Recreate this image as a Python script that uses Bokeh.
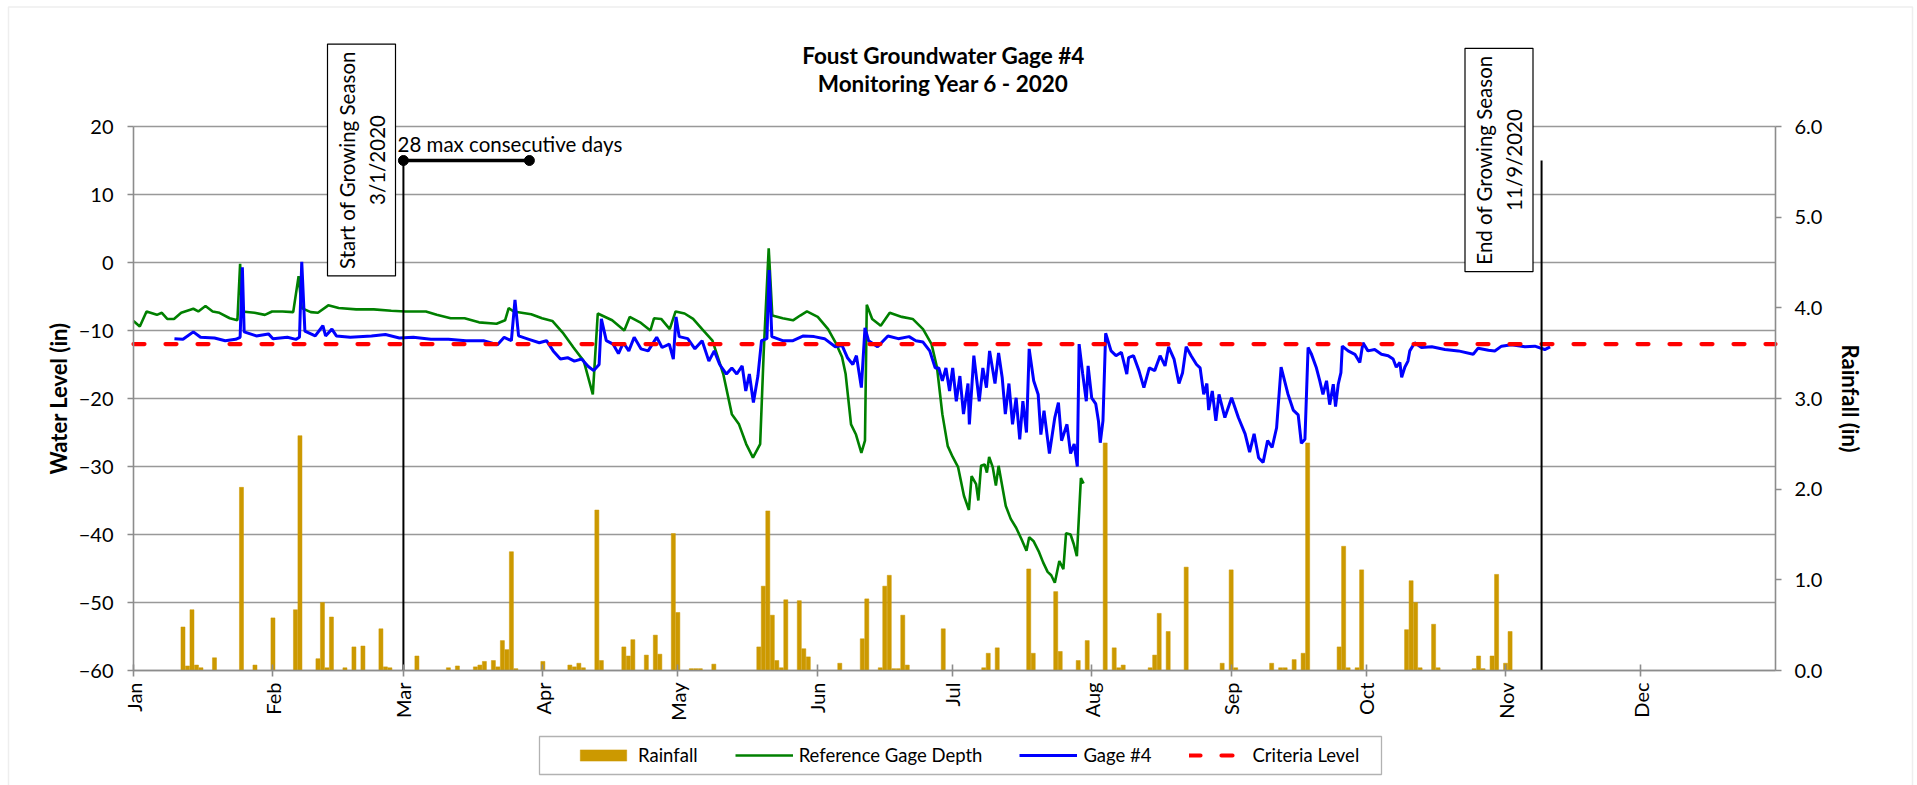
import math
from bokeh.plotting import figure
from bokeh.models import (Range1d, LinearAxis, FixedTicker, Label, Legend, LegendItem,
                          BoxAnnotation)
from bokeh.embed import file_html
from bokeh.resources import INLINE

FONT = "Lato"

# ---------------- data (day offset from 2020-01-01) ----------------
month_days = [0, 31, 60, 91, 121, 152, 182, 213, 244, 274, 305, 335]
month_labels = ["Jan", "Feb", "Mar", "Apr", "May", "Jun", "Jul", "Aug", "Sep", "Oct", "Nov", "Dec"]

rain_day = [11, 12, 13, 14, 15, 18, 24, 27, 31, 36, 37, 41, 42, 43, 44, 47, 49, 51, 55, 56, 57,
            63, 70, 72, 76, 77, 78, 80, 81, 82, 83, 84, 85, 91, 97, 98, 99, 100, 103, 104,
            109, 110, 111, 114, 116, 117, 120, 121, 124, 125, 126, 129, 139, 140, 141, 142,
            143, 144, 145, 148, 149, 150, 157, 162, 163, 166, 167, 168, 169, 170, 171, 172,
            180, 189, 190, 192, 199, 200, 205, 206, 210, 212, 216, 218, 219, 220, 226, 227,
            228, 230, 234, 242, 244, 245, 253, 255, 256, 258, 260, 261, 268, 269, 270, 272,
            273, 283, 284, 285, 286, 289, 290, 298, 299, 300, 302, 303, 305, 306]
rain_in = [0.48, 0.05, 0.67, 0.06, 0.03, 0.14, 2.02, 0.06, 0.58, 0.67, 2.59, 0.13, 0.75, 0.03,
           0.59, 0.03, 0.26, 0.27, 0.46, 0.04, 0.03,
           0.16, 0.03, 0.05, 0.04, 0.06, 0.10, 0.11, 0.04, 0.33, 0.23, 1.31, 0.02, 0.10, 0.06,
           0.04, 0.08, 0.03, 1.77, 0.11,
           0.26, 0.16, 0.34, 0.17, 0.39, 0.18, 1.51, 0.64, 0.02, 0.02, 0.02, 0.07, 0.26, 0.93,
           1.76, 0.61,
           0.11, 0.03, 0.78, 0.77, 0.24, 0.15, 0.08, 0.35, 0.79, 0.03, 0.93, 1.05, 0.02, 0.02,
           0.61, 0.06,
           0.46, 0.03, 0.19, 0.25, 1.12, 0.19, 0.87, 0.21, 0.11, 0.33, 2.51, 0.25, 0.03, 0.06,
           0.03, 0.17,
           0.63, 0.43, 1.14, 0.08, 1.11, 0.03, 0.08, 0.03, 0.03, 0.12, 0.19, 2.51, 0.26, 1.37,
           0.03, 0.03,
           1.11, 0.45, 0.99, 0.75, 0.03, 0.51, 0.03, 0.02, 0.16, 0.02, 0.16, 1.06, 0.08, 0.43]

ref_day = [0, 1.4, 2.9, 5.2, 6.3, 7.5, 9.0, 10.6, 13.3, 14.4, 16.0, 17.6, 19.1, 21.4, 23.1, 23.7,
           24.1, 26.9, 29.2, 30.8, 33.1, 35.5, 36.7, 37.4, 39.4, 41.0, 43.3, 45.6, 49.5, 53.4,
           57.3, 60.4, 65.0, 67.4, 70.5, 73.6, 76.8, 80.7, 82.6, 83.4, 84.5, 88.4, 90.8, 93.1,
           95.4, 97.8, 100.1, 102.1, 103.2, 106.4, 109.1, 110.3, 112.6, 114.9, 115.7, 117.3,
           119.2, 120.5, 122.5, 124.4, 126.4, 128.7, 131.1, 133.0, 134.6, 136.2, 137.7, 139.3,
           140.1, 141.2, 142.0, 144.3, 146.6, 148.2, 149.7, 152.1, 154.4, 156.0, 157.5, 158.3,
           159.5, 160.6, 161.8, 162.6, 163.0, 164.2, 166.1, 168.1, 170.8, 173.2, 175.5, 177.4,
           178.6, 179.8, 181.0, 182.1, 183.3, 184.6, 185.7, 186.3, 187.3, 187.8, 188.4, 189.2,
           189.7, 190.2, 191.0, 191.7, 192.3, 193.9, 195.0, 196.2, 197.4, 198.5, 199.1, 200.1,
           201.3, 202.2, 203.2, 204.0, 204.8, 205.8, 206.7, 207.3, 208.3, 209.0, 209.7, 210.6,
           211.2]
ref_depth = [-8.6, -9.4, -7.2, -7.7, -7.4, -8.3, -8.3, -7.4, -6.8, -7.2, -6.4, -7.2, -7.4, -8.2,
             -8.5, -0.2, -7.2, -7.4, -7.7, -7.2, -7.2, -7.3, -2.0, -6.7, -7.3, -7.4, -6.3, -6.7,
             -6.9, -6.9, -7.1, -7.2, -7.2, -7.7, -8.2, -8.2, -8.8, -9.0, -8.5, -6.7, -7.2, -7.6,
             -8.2, -8.6, -10.3, -12.5, -14.5, -19.4, -7.5, -8.5, -10.0, -8.0, -8.8, -10.0, -8.2,
             -8.3, -9.8, -7.2, -7.5, -8.3, -9.8, -11.5, -16.4, -22.3, -23.8, -26.7, -28.7,
             -26.7, -13.0, 2.1, -7.8, -8.2, -8.5, -7.8, -7.2, -8.0, -9.8, -11.7, -13.9, -16.4,
             -23.8, -25.3, -28.0, -26.2, -6.2, -8.3, -9.3, -7.4, -8.0, -8.3, -9.8, -12.0, -15.4,
             -22.3, -27.0, -28.6, -30.1, -34.3, -36.4, -31.4, -32.6, -35.0, -29.9, -29.7, -30.9,
             -28.6, -30.1, -32.8, -29.9, -35.8, -37.7, -39.0, -40.7, -42.4, -40.4, -41.0, -42.6,
             -44.1, -45.5, -46.0, -47.1, -43.9, -45.1, -39.8, -40.0, -41.4, -43.2, -31.7, -32.5]

gage4_day = [9.1, 11.0, 13.3, 14.9, 18.0, 20.4, 22.7, 23.7, 24.2, 24.6, 27.3, 30.0, 31.0, 34.2,
             36.1, 36.9, 37.4, 38.1, 40.4, 42.1, 42.7, 44.1, 45.1, 48.2, 52.9, 56.0, 59.1, 62.2,
             66.1, 70.0, 73.9, 77.8, 80.9, 82.4, 84.0, 84.8, 85.6, 87.9, 90.2, 91.8, 93.3, 94.9,
             96.5, 98.0, 99.6, 101.1, 102.3, 103.5, 104.0, 105.1, 106.6, 107.8, 108.9, 110.1,
             111.3, 112.8, 114.4, 116.3, 117.5, 119.1, 120.0, 120.6, 121.3, 123.2, 124.8, 126.4,
             127.9, 129.1, 130.3, 131.8, 133.0, 134.1, 135.3, 136.1, 136.9, 137.8, 138.8, 139.6,
             140.8, 141.3, 141.9, 144.3, 146.6, 148.9, 151.3, 153.6, 156.0, 157.5, 158.7, 159.9,
             160.7, 161.8, 162.6, 163.4, 165.4, 167.7, 170.0, 172.4, 173.9, 175.5, 177.0, 178.2,
             179.0, 179.8, 180.6, 181.4, 182.1, 182.9, 183.7, 184.5, 185.5, 185.8, 186.8, 188.0,
             188.8, 189.6, 190.3, 191.5, 192.3, 193.1, 193.8, 194.6, 195.4, 196.2, 197.0, 197.7,
             198.5, 199.1, 200.1, 201.1, 201.7, 202.4, 203.6, 204.8, 205.6, 206.3, 207.5, 208.3,
             209.1, 209.8, 210.2, 211.0, 211.8, 212.2, 213.0, 213.9, 214.5, 214.9, 215.5, 216.1,
             217.3, 218.4, 219.6, 220.8, 221.2, 222.3, 223.5, 224.6, 225.8, 227.0, 228.2, 229.3,
             230.1, 231.3, 232.4, 233.2, 234.0, 235.1, 236.3, 237.1, 237.9, 238.6, 239.0, 239.8,
             240.6, 241.3, 242.6, 244.1, 245.6, 247.1, 248.1, 249.1, 250.1, 251.1, 252.1, 253.1,
             254.1, 255.1, 256.6, 257.8, 258.9, 259.6, 260.4, 261.1, 261.8, 262.9, 263.7, 264.4,
             265.2, 265.9, 266.7, 267.2, 267.8, 268.4, 268.7, 270.0, 271.5, 272.6, 273.3, 274.4,
             275.9, 277.4, 278.9, 280.0, 280.7, 281.5, 281.9, 282.6, 283.3, 283.7, 284.8, 286.3,
             288.6, 291.5, 294.5, 297.8, 298.9, 301.2, 302.6, 304.1, 306.3, 309.3, 311.5, 313.7,
             314.9]
gage4_level = [-11.2, -11.3, -10.2, -11.0, -11.1, -11.5, -11.3, -11.0, -0.7, -10.2, -10.8, -10.5,
               -11.2, -11.0, -11.3, -11.0, 0.1, -10.1, -10.8, -9.3, -10.8, -9.8, -10.8, -11.0,
               -10.8, -10.6, -11.1, -11.0, -11.3, -11.3, -11.5, -11.5, -12.1, -11.0, -11.5, -5.5,
               -10.8, -11.3, -11.8, -11.5, -13.0, -14.2, -14.0, -14.5, -14.2, -15.3, -15.9, -15.0,
               -8.3, -11.5, -12.0, -13.4, -11.8, -13.0, -11.0, -12.7, -13.0, -11.0, -12.5, -12.0,
               -14.2, -8.0, -10.9, -11.2, -12.7, -11.5, -14.5, -13.0, -15.0, -16.4, -15.5, -16.4,
               -15.2, -18.9, -16.4, -20.6, -16.7, -11.5, -11.2, -1.1, -10.9, -11.5, -11.5, -10.8,
               -10.9, -11.2, -12.4, -12.2, -14.0, -15.0, -13.7, -18.4, -9.6, -11.5, -12.4, -10.8,
               -11.2, -10.9, -11.5, -11.7, -13.0, -15.5, -15.5, -17.4, -15.5, -18.9, -15.5, -20.4,
               -16.7, -22.3, -17.8, -23.8, -13.7, -20.4, -15.5, -18.4, -13.0, -17.8, -13.3, -16.9,
               -22.3, -17.8, -23.8, -19.9, -26.0, -20.4, -25.0, -12.7, -17.4, -19.4, -25.3, -21.8,
               -28.1, -22.8, -20.6, -26.2, -23.8, -28.1, -26.7, -30.0, -12.0, -16.4, -20.4, -15.2,
               -19.9, -20.8, -23.3, -26.5, -23.3, -10.4, -13.0, -13.7, -13.2, -16.4, -14.0, -13.7,
               -15.9, -18.4, -15.5, -15.9, -13.7, -15.2, -12.4, -14.2, -17.8, -16.2, -12.4, -13.7,
               -15.0, -15.5, -19.4, -17.8, -21.7, -18.9, -23.3, -19.4, -22.8, -19.9, -22.8, -25.2,
               -27.9, -25.2, -28.7, -29.4, -26.2, -27.2, -24.3, -15.4, -19.3, -21.7, -22.4, -26.6,
               -26.0, -12.5, -13.4, -15.4, -17.4, -19.4, -17.4, -20.9, -17.9, -21.2, -17.9, -16.2,
               -12.3, -13.0, -13.5, -14.7, -11.8, -13.0, -12.8, -13.5, -13.7, -14.2, -15.4, -14.7,
               -16.9, -15.4, -14.5, -13.0, -11.8, -12.5, -12.4, -12.8, -13.0, -13.5, -12.6, -12.9,
               -13.0, -12.3, -12.1, -12.4, -12.3, -12.8, -12.4]

left_ticks = [-60, -50, -40, -30, -20, -10, 0, 10, 20]
rain_ticks = [0, 1, 2, 3, 4, 5, 6]
criteria_level = -12.0
season_start_day = 60      # 3/1/2020
season_end_day = 313       # 11/9/2020
consecutive_days = 28
marker_level = 15

# ---------------- layout geometry (pixels) ----------------
W, H = 1917, 785
PX_L, PX_R, PX_T, PX_B = 133, 1775, 126, 670     # plot-area edges on the canvas
XMIN, XMAX, YMIN, YMAX, RMAX = 0, 365, -60, 20, 6
sx = (PX_R - PX_L) / (XMAX - XMIN)
sy = (PX_B - PX_T) / (YMAX - YMIN)
sr = (PX_B - PX_T) / RMAX
x_start, x_end = XMIN - PX_L / sx, XMAX + (W - PX_R) / sx
y_start, y_end = YMIN - (H - PX_B) / sy, YMAX + PX_T / sy
r_start, r_end = -(H - PX_B) / sr, RMAX + PX_T / sr


def dx(px):   # canvas x pixel -> day
    return XMIN + (px - PX_L) / sx


def dy(py):   # canvas y pixel -> water level
    return YMAX - (py - PX_T) / sy


p = figure(width=W, height=H, output_backend="svg", toolbar_location=None,
           x_range=Range1d(x_start, x_end), y_range=Range1d(y_start, y_end),
           min_border=0, min_border_left=0, min_border_right=0, min_border_top=0,
           min_border_bottom=0, background_fill_color="white",
           border_fill_color="white", outline_line_color=None)
p.extra_y_ranges = {"rain": Range1d(r_start, r_end)}

GRID = "#999999"
AX = "#8c8c8c"
TICK_FS = "20px"
p.xgrid.grid_line_color = None
p.ygrid.grid_line_color = None

# horizontal gridlines limited to the plot area
p.segment(x0=[XMIN] * len(left_ticks), x1=[XMAX] * len(left_ticks),
          y0=left_ticks, y1=left_ticks, line_color=GRID, line_width=1.6)


def style_axis(ax):
    ax.minor_tick_line_color = None
    ax.axis_line_color = AX
    ax.axis_line_width = 1.6
    ax.major_tick_line_color = AX
    ax.major_tick_line_width = 1.6
    ax.major_label_text_font = FONT
    ax.major_label_text_font_size = TICK_FS
    ax.major_label_text_color = "black"
    ax.axis_label_text_font = FONT
    ax.axis_label_text_font_style = "bold"
    ax.axis_label_text_font_size = "22px"
    ax.axis_label_text_color = "black"


# x axis
xa = p.xaxis[0]
style_axis(xa)
xa.fixed_location = YMIN
xa.bounds = (XMIN, XMAX)
xa.ticker = FixedTicker(ticks=month_days)
xa.major_label_overrides = {d: m for d, m in zip(month_days, month_labels)}
xa.major_label_orientation = math.pi / 2
xa.major_tick_in = 6
xa.major_tick_out = 6
xa.major_label_standoff = 6

# left axis
ya = p.yaxis[0]
style_axis(ya)
ya.fixed_location = XMIN
ya.bounds = (YMIN, YMAX)
ya.ticker = FixedTicker(ticks=left_ticks)
ya.axis_label = "Water Level (in)"
ya.axis_label_standoff = 4
ya.major_tick_in = 0
ya.major_tick_out = 6
ya.major_label_standoff = 14

# right axis
ra = LinearAxis(y_range_name="rain", ticker=FixedTicker(ticks=rain_ticks), bounds=(0, RMAX),
                fixed_location=XMAX)
style_axis(ra)
ra.major_label_overrides = {i: f"{i:.1f}" for i in rain_ticks}
ra.axis_label = "Rainfall (in)"
ra.axis_label_standoff = 12
ra.major_tick_in = 0
ra.major_tick_out = 6
ra.major_label_standoff = 13
p.add_layout(ra, "right")

# ---------------- series ----------------
bars = p.vbar(x=rain_day, top=rain_in, width=0.9, y_range_name="rain",
              fill_color="#cc9900", line_color="#cc9900", line_width=0.5)
ref_r = p.line(ref_day, ref_depth, line_color="#008000", line_width=2.6)
g4_r = p.line(gage4_day, gage4_level, line_color="#0000ff", line_width=3)
crit_r = p.line([XMIN, XMAX], [criteria_level, criteria_level], line_color="#ff0000",
                line_width=4.2, line_dash="11 21", line_cap="round")

# growing season markers
p.segment(x0=[season_start_day, season_end_day], y0=[YMIN, YMIN],
          x1=[season_start_day, season_end_day], y1=[marker_level, marker_level],
          line_color="black", line_width=2)
p.segment(x0=[season_start_day], y0=[marker_level],
          x1=[season_start_day + consecutive_days], y1=[marker_level],
          line_color="black", line_width=3.5)
p.scatter([season_start_day, season_start_day + consecutive_days], [marker_level, marker_level],
          size=10, color="black")

p.add_layout(Label(x=dx(397), y=dy(143.5), text=f"{consecutive_days} max consecutive days",
                   text_font=FONT, text_font_size="20.5px", text_baseline="middle",
                   text_align="left", text_color="black"))

for xc, txt in [(dx(361), "Start of Growing Season\n3/1/2020"),
                (dx(1498.5), "End of Growing Season\n11/9/2020")]:
    p.add_layout(Label(x=xc, y=dy(159.5), text=txt, angle=math.pi / 2, anchor="center",
                       text_align="center", text_baseline="middle", text_color="black",
                       text_font=FONT, text_font_size="20.5px", text_line_height=1.25,
                       border_line_color="black", border_line_width=1.2,
                       background_fill_color="white", padding=7))

# title
p.add_layout(Label(x=dx(943), y=dy(55), text="Foust Groundwater Gage #4",
                   text_font=FONT, text_font_style="bold", text_font_size="22.5px",
                   text_align="center", text_baseline="middle", text_color="black"))
p.add_layout(Label(x=dx(943), y=dy(83), text="Monitoring Year 6 - 2020",
                   text_font=FONT, text_font_style="bold", text_font_size="22.5px",
                   text_align="center", text_baseline="middle", text_color="black"))

# legend (box drawn separately for the wider frame)
p.add_layout(BoxAnnotation(left=539, right=1381, top=H - 736, bottom=H - 774,
                           left_units="screen", right_units="screen",
                           top_units="screen", bottom_units="screen",
                           fill_color="white", fill_alpha=1.0,
                           line_color="black", line_width=1.3))
legend = Legend(items=[LegendItem(label="Rainfall", renderers=[bars]),
                       LegendItem(label="Reference Gage Depth", renderers=[ref_r]),
                       LegendItem(label="Gage #4", renderers=[g4_r]),
                       LegendItem(label="Criteria Level", renderers=[crit_r])],
                orientation="horizontal", location=(566, H - 774),
                glyph_width=58, glyph_height=14, label_standoff=6, spacing=37,
                padding=8, margin=0, border_line_alpha=0, background_fill_alpha=0,
                label_text_font=FONT, label_text_font_size="18.5px",
                label_text_color="black")
p.add_layout(legend, "center")

# outer chart border
p.add_layout(BoxAnnotation(left=8, right=1912, top=H - 6.5, bottom=-20,
                           left_units="screen", right_units="screen",
                           top_units="screen", bottom_units="screen",
                           fill_alpha=0, line_color="#c8c8c8", line_width=1.5))

open("out.html", "w").write(file_html(p, INLINE))
